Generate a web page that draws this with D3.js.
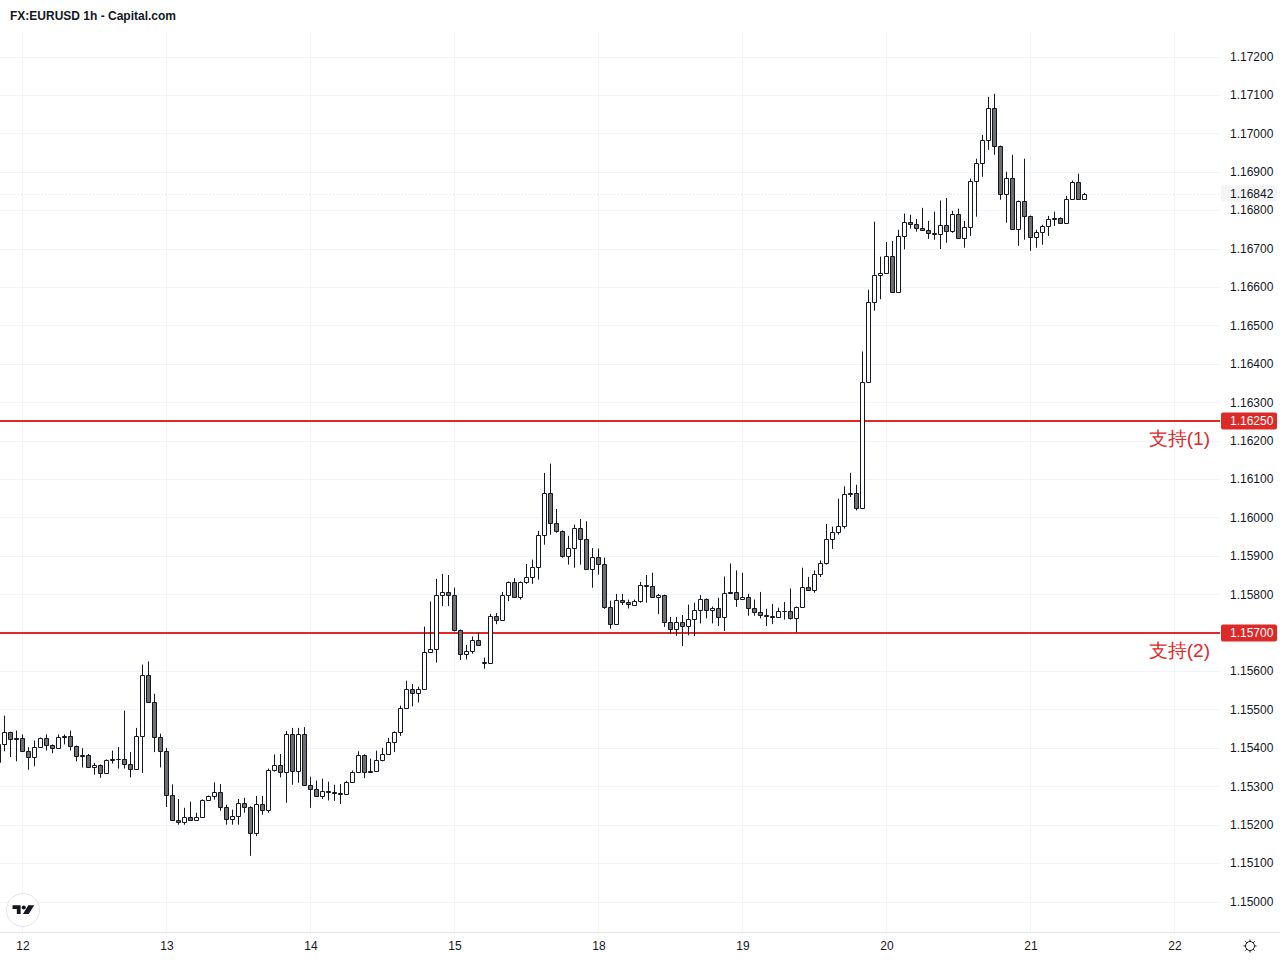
<!DOCTYPE html>
<html>
<head>
<meta charset="utf-8">
<script src="https://cdn.jsdelivr.net/npm/d3@7/dist/d3.min.js"></script>
<style>
  html, body { margin: 0; padding: 0; background: #ffffff; }
  svg { display: block; }
  text { font-family: "Liberation Sans", Arial, sans-serif; }
</style>
</head>
<body>
<svg id="chart" width="1280" height="960"></svg>
<script>
// ---------- DATA ----------
const title = "FX:EURUSD 1h - Capital.com";

const openP = [
1.15362,1.15410,1.15440,1.15426,1.15426,1.15393,1.15376,1.15402,1.15426,1.15408,
1.15400,1.15431,1.15431,1.15405,1.15382,1.15382,1.15351,1.15356,1.15335,1.15372,
1.15372,1.15372,1.15359,1.15346,1.15431,1.15590,1.15520,1.15429,1.15393,1.15278,
1.15213,1.15208,1.15220,1.15213,1.15220,1.15263,1.15275,1.15285,1.15247,1.15215,
1.15223,1.15257,1.15247,1.15179,1.15254,1.15239,1.15343,1.15356,1.15338,1.15437,
1.15340,1.15437,1.15304,1.15294,1.15275,1.15288,1.15286,1.15283,1.15279,1.15312,
1.15336,1.15382,1.15341,1.15339,1.15369,1.15384,1.15415,1.15442,1.15505,1.15554,
1.15544,1.15554,1.15650,1.15658,1.15798,1.15806,1.15798,1.15707,1.15645,1.15653,
1.15681,1.15622,1.15622,1.15744,1.15733,1.15798,1.15832,1.15793,1.15832,1.15845,
1.15871,1.15955,1.16064,1.15986,1.15965,1.15900,1.15921,1.15973,1.15944,1.15866,
1.15898,1.15879,1.15767,1.15723,1.15786,1.15780,1.15772,1.15783,1.15825,1.15822,
1.15793,1.15798,1.15728,1.15710,1.15728,1.15717,1.15736,1.15760,1.15788,1.15760,
1.15765,1.15742,1.15806,1.15806,1.15788,1.15793,1.15765,1.15754,1.15746,1.15744,
1.15742,1.15757,1.15757,1.15739,1.15767,1.15819,1.15812,1.15852,1.15880,1.15944,
1.15963,1.15978,1.16064,1.16064,1.16025,1.16352,1.16561,1.16631,1.16637,1.16681,
1.16587,1.16733,1.16769,1.16765,1.16754,1.16749,1.16741,1.16738,1.16762,1.16746,
1.16790,1.16728,1.16756,1.16876,1.16923,1.16983,1.17066,1.16967,1.16843,1.16884,
1.16751,1.16824,1.16785,1.16731,1.16744,1.16759,1.16780,1.16780,1.16767,1.16830,
1.16874,1.16830];

const highP = [
1.15415,1.15484,1.15442,1.15445,1.15435,1.15402,1.15419,1.15427,1.15435,1.15409,
1.15435,1.15435,1.15445,1.15406,1.15399,1.15384,1.15361,1.15357,1.15370,1.15393,
1.15402,1.15497,1.15389,1.15452,1.15617,1.15625,1.15541,1.15437,1.15400,1.15305,
1.15267,1.15244,1.15260,1.15231,1.15266,1.15276,1.15310,1.15306,1.15252,1.15239,
1.15267,1.15270,1.15248,1.15275,1.15275,1.15346,1.15383,1.15384,1.15444,1.15452,
1.15452,1.15454,1.15325,1.15315,1.15320,1.15312,1.15304,1.15306,1.15314,1.15341,
1.15391,1.15383,1.15372,1.15393,1.15400,1.15426,1.15443,1.15510,1.15575,1.15566,
1.15559,1.15716,1.15781,1.15840,1.15853,1.15850,1.15817,1.15708,1.15668,1.15690,
1.15700,1.15635,1.15749,1.15751,1.15806,1.15833,1.15842,1.15833,1.15879,1.15890,
1.15965,1.16116,1.16140,1.16022,1.15966,1.15952,1.15981,1.15996,1.15990,1.15920,
1.15919,1.15895,1.15783,1.15801,1.15801,1.15786,1.15786,1.15832,1.15850,1.15856,
1.15801,1.15799,1.15741,1.15741,1.15746,1.15773,1.15778,1.15798,1.15789,1.15768,
1.15791,1.15846,1.15880,1.15862,1.15856,1.15801,1.15786,1.15806,1.15762,1.15775,
1.15765,1.15780,1.15815,1.15768,1.15869,1.15845,1.15862,1.15888,1.15983,1.15976,
1.16049,1.16081,1.16116,1.16085,1.16432,1.16593,1.16770,1.16679,1.16717,1.16720,
1.16749,1.16791,1.16788,1.16777,1.16806,1.16772,1.16796,1.16825,1.16832,1.16798,
1.16804,1.16772,1.16882,1.16934,1.16996,1.17095,1.17103,1.16968,1.16900,1.16944,
1.16825,1.16934,1.16786,1.16749,1.16762,1.16785,1.16796,1.16781,1.16837,1.16877,
1.16895,1.16845];

const lowP = [
1.15362,1.15391,1.15376,1.15365,1.15389,1.15343,1.15352,1.15400,1.15393,1.15386,
1.15399,1.15409,1.15393,1.15365,1.15349,1.15350,1.15330,1.15322,1.15335,1.15359,
1.15346,1.15346,1.15323,1.15345,1.15335,1.15519,1.15389,1.15349,1.15246,1.15212,
1.15200,1.15200,1.15212,1.15212,1.15219,1.15263,1.15265,1.15236,1.15200,1.15200,
1.15200,1.15231,1.15119,1.15170,1.15226,1.15231,1.15338,1.15323,1.15257,1.15304,
1.15309,1.15301,1.15244,1.15273,1.15267,1.15263,1.15262,1.15254,1.15279,1.15311,
1.15336,1.15321,1.15336,1.15338,1.15365,1.15382,1.15389,1.15431,1.15505,1.15508,
1.15518,1.15553,1.15650,1.15622,1.15769,1.15769,1.15703,1.15629,1.15630,1.15645,
1.15665,1.15606,1.15622,1.15722,1.15733,1.15782,1.15791,1.15786,1.15827,1.15827,
1.15838,1.15929,1.15955,1.15960,1.15895,1.15877,1.15869,1.15877,1.15864,1.15817,
1.15851,1.15762,1.15710,1.15723,1.15772,1.15763,1.15772,1.15778,1.15778,1.15791,
1.15748,1.15715,1.15697,1.15692,1.15665,1.15693,1.15691,1.15724,1.15737,1.15724,
1.15717,1.15704,1.15803,1.15767,1.15786,1.15744,1.15744,1.15737,1.15717,1.15722,
1.15739,1.15734,1.15734,1.15701,1.15765,1.15811,1.15804,1.15845,1.15877,1.15918,
1.15955,1.15971,1.16053,1.16018,1.16025,1.16352,1.16538,1.16568,1.16637,1.16585,
1.16585,1.16698,1.16752,1.16744,1.16748,1.16725,1.16723,1.16699,1.16715,1.16741,
1.16725,1.16702,1.16733,1.16783,1.16887,1.16957,1.16944,1.16827,1.16767,1.16751,
1.16707,1.16723,1.16694,1.16702,1.16710,1.16733,1.16759,1.16767,1.16767,1.16829,
1.16829,1.16829];

const closeP = [
1.15411,1.15440,1.15424,1.15423,1.15393,1.15376,1.15403,1.15426,1.15408,1.15400,
1.15429,1.15429,1.15405,1.15379,1.15379,1.15351,1.15356,1.15335,1.15369,1.15369,
1.15370,1.15359,1.15346,1.15431,1.15590,1.15520,1.15429,1.15393,1.15278,1.15213,
1.15208,1.15220,1.15213,1.15220,1.15263,1.15275,1.15285,1.15247,1.15215,1.15223,
1.15257,1.15247,1.15179,1.15254,1.15239,1.15343,1.15356,1.15338,1.15437,1.15340,
1.15437,1.15304,1.15294,1.15275,1.15288,1.15285,1.15283,1.15279,1.15312,1.15336,
1.15382,1.15338,1.15338,1.15369,1.15384,1.15415,1.15442,1.15505,1.15554,1.15544,
1.15554,1.15650,1.15658,1.15798,1.15806,1.15798,1.15707,1.15645,1.15653,1.15681,
1.15668,1.15623,1.15744,1.15733,1.15798,1.15832,1.15793,1.15832,1.15845,1.15871,
1.15955,1.16064,1.15986,1.15965,1.15900,1.15921,1.15973,1.15944,1.15866,1.15898,
1.15879,1.15767,1.15723,1.15786,1.15780,1.15774,1.15783,1.15825,1.15822,1.15793,
1.15798,1.15728,1.15710,1.15728,1.15717,1.15736,1.15760,1.15788,1.15760,1.15765,
1.15742,1.15804,1.15804,1.15788,1.15793,1.15765,1.15754,1.15746,1.15744,1.15742,
1.15757,1.15756,1.15739,1.15767,1.15819,1.15812,1.15852,1.15880,1.15944,1.15963,
1.15978,1.16062,1.16062,1.16025,1.16352,1.16561,1.16631,1.16637,1.16681,1.16587,
1.16733,1.16769,1.16765,1.16754,1.16749,1.16741,1.16738,1.16762,1.16746,1.16790,
1.16728,1.16756,1.16876,1.16923,1.16983,1.17066,1.16967,1.16843,1.16884,1.16751,
1.16824,1.16785,1.16731,1.16744,1.16759,1.16777,1.16777,1.16767,1.16830,1.16874,
1.16830,1.16842];

const dayLabels = ["12","13","14","15","18","19","20","21","22"];
const dayBarIndex = [4, 28, 52, 76, 100, 124, 148, 172, 196];
const priceTicks = d3.range(0, 23).map(i => +(1.150 + i * 0.001).toFixed(3));
const lastPrice = 1.16842;
const supportLevels = [1.16250, 1.15700];
const supportNames = ["支持(1)", "支持(2)"];

// ---------- LAYOUT ----------
const W = 1280, H = 960;
const plotRight = 1220, plotTop = 32, plotBottom = 932;
const red = "#dc2a28";
const ink = "#131722";

const svg = d3.select("#chart");
svg.append("rect").attr("width", W).attr("height", H).attr("fill", "#ffffff");

const x = d3.scaleLinear().domain([0, 203]).range([-1.5, 1216.5]);
const y = d3.scaleLinear().domain([1.150, 1.172]).range([901.5, 56.5]);
const snap = v => Math.round(v) + 0.5;

// grid
const grid = svg.append("g");
grid.selectAll("line.h").data(priceTicks).join("line")
  .attr("x1", 0).attr("x2", plotRight)
  .attr("y1", d => snap(y(d))).attr("y2", d => snap(y(d)))
  .attr("stroke", "#f0f3fa").attr("stroke-width", 1);
grid.selectAll("line.v").data(dayBarIndex).join("line")
  .attr("x1", d => x(d)).attr("x2", d => x(d))
  .attr("y1", plotTop).attr("y2", plotBottom)
  .attr("stroke", "#f0f3fa").attr("stroke-width", 1);

// bottom separator
svg.append("line").attr("x1", 0).attr("x2", W)
  .attr("y1", plotBottom + 0.5).attr("y2", plotBottom + 0.5)
  .attr("stroke", "#e0e3eb");

// support lines
svg.selectAll("line.sup").data(supportLevels).join("line")
  .attr("x1", 0).attr("x2", plotRight)
  .attr("y1", d => Math.round(y(d))).attr("y2", d => Math.round(y(d)))
  .attr("stroke", red).attr("stroke-width", 2);

// last price dotted line (very faint)
svg.append("line").attr("x1", 0).attr("x2", plotRight)
  .attr("y1", snap(y(lastPrice))).attr("y2", snap(y(lastPrice)))
  .attr("stroke", "#dfe1e6").attr("stroke-width", 1).attr("stroke-dasharray", "1,2");

// candles
const bars = openP.map((o, i) => ({ i, o, h: highP[i], l: lowP[i], c: closeP[i] }));
const cg = svg.append("g");
cg.selectAll("line.wick").data(bars).join("line")
  .attr("x1", d => x(d.i)).attr("x2", d => x(d.i))
  .attr("y1", d => y(d.h)).attr("y2", d => y(d.l))
  .attr("stroke", ink).attr("stroke-width", 1);
cg.selectAll("path.body").data(bars).join("path")
  .attr("d", d => {
    const t = snap(y(Math.max(d.o, d.c)));
    const b = snap(y(Math.min(d.o, d.c)));
    const x0 = x(d.i) - 2, x1 = x(d.i) + 2;
    return `M${x0},${t}H${x1}V${b}H${x0}Z`;
  })
  .attr("fill", d => d.c >= d.o ? "#ffffff" : "#6e6e6e")
  .attr("stroke", ink).attr("stroke-width", 1);

// right price axis
const yAxis = d3.axisRight(y).tickValues(priceTicks).tickSize(0).tickPadding(0)
  .tickFormat(d3.format(".5f"));
const ya = svg.append("g").attr("transform", "translate(1230,0)").call(yAxis);
ya.select(".domain").remove();
ya.selectAll("text").attr("font-size", 12).attr("fill", ink)
  .attr("font-family", "'Liberation Sans', Arial, sans-serif");

// bottom time axis
const xAxis = d3.axisBottom(x).tickValues(dayBarIndex).tickSize(0).tickPadding(9)
  .tickFormat((d, i) => dayLabels[i]);
const xa = svg.append("g").attr("transform", `translate(0,${plotBottom})`).call(xAxis);
xa.select(".domain").remove();
xa.selectAll("text").attr("font-size", 12).attr("fill", ink).attr("font-weight", 500)
  .attr("font-family", "'Liberation Sans', Arial, sans-serif");

// last price label
const ly = y(lastPrice);
svg.append("rect").attr("x", 1221).attr("y", ly - 8.5).attr("width", 56).attr("height", 16)
  .attr("rx", 2).attr("fill", "#f3f4f6");
svg.append("text").attr("x", 1230).attr("y", ly).attr("dy", "0.35em")
  .attr("font-size", 12).attr("fill", ink).text(d3.format(".5f")(lastPrice));

// support labels on axis + names
supportLevels.forEach((lv, i) => {
  const yy = Math.round(y(lv));
  svg.append("rect").attr("x", 1221).attr("y", yy - 8.5).attr("width", 56).attr("height", 17)
    .attr("rx", 2).attr("fill", red);
  svg.append("text").attr("x", 1230).attr("y", yy).attr("dy", "0.35em")
    .attr("font-size", 12).attr("fill", "#ffffff").text(d3.format(".5f")(lv));
  svg.append("text").attr("x", 1210).attr("y", yy + 17).attr("dy", "0.35em")
    .attr("text-anchor", "end").attr("font-size", 19).attr("fill", red)
    .attr("font-family", "'Noto Sans CJK SC', 'Noto Sans', sans-serif")
    .text(supportNames[i]);
});

// title
svg.append("text").attr("x", 10).attr("y", 20).attr("font-size", 12)
  .attr("font-weight", "bold").attr("fill", ink).text(title);

// TradingView logo
const logo = svg.append("g").attr("transform", "translate(23,910)");
logo.append("circle").attr("r", 16.5).attr("fill", "#ffffff").attr("stroke", "#e0e3eb");
const mark = logo.append("g").attr("transform", "translate(0.5,0.5) scale(1.15)");
mark.append("path").attr("d", "M-9.5,-4.5H-2.5V3H-5.8V-1.3H-9.5Z").attr("fill", ink);
mark.append("circle").attr("cx", 0.2).attr("cy", -2.6).attr("r", 1.8).attr("fill", ink);
mark.append("path").attr("d", "M4.2,-4.5H9.3L4.6,3H-0.5Z").attr("fill", ink);

// settings icon
const gear = svg.append("g").attr("transform", "translate(1250,946)");
gear.append("circle").attr("r", 4.5).attr("fill", "none").attr("stroke", ink).attr("stroke-width", 1);
d3.range(8).forEach(k => {
  const a = k * Math.PI / 4;
  gear.append("line")
    .attr("x1", Math.cos(a) * 4.5).attr("y1", Math.sin(a) * 4.5)
    .attr("x2", Math.cos(a) * 6.5).attr("y2", Math.sin(a) * 6.5)
    .attr("stroke", ink).attr("stroke-width", 1);
});
</script>
</body>
</html>
